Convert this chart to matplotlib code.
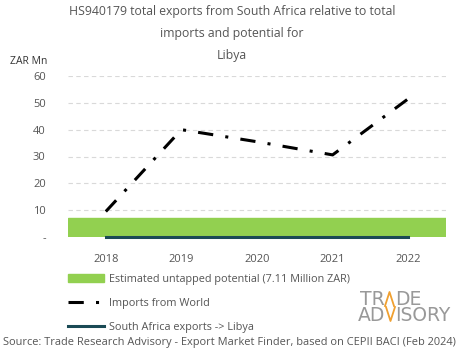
import matplotlib
matplotlib.use("Agg")
import matplotlib.pyplot as plt
from matplotlib.lines import Line2D
from matplotlib.patches import Patch

plt.rcParams['font.family'] = ['Open Sans', 'DejaVu Sans']

years = ['2018', '2019', '2020', '2021', '2022']
imports_world = [9.5, 40.0, 35.5, 30.6, 51.5]
sa_exports = [0.0, 0.0, 0.0, 0.0, 0.0]
potential = 7.11
yticks = [0, 10, 20, 30, 40, 50, 60]
ytick_labels = ['-', '10', '20', '30', '40', '50', '60']

W, H = 465, 359
fig = plt.figure(figsize=(W / 100, H / 100), dpi=100)
ax = fig.add_axes([68 / W, 1 - 237 / H, 378 / W, 161 / H])

x = list(range(len(years)))
ax.axhspan(0, potential, color='#92d050', zorder=1)
ax.plot(x, imports_world, color='black', lw=2.2, dashes=(5, 4, 1, 4), zorder=3)
ax.plot(x, sa_exports, color='#1a4a55', lw=2.2, zorder=3, clip_on=False)

ax.set_xlim(-0.5, 4.5)
ax.set_ylim(0, 60)
ax.set_xticks(x)
ax.set_xticklabels(years)
ax.set_yticks(yticks)
ax.set_yticklabels(ytick_labels)
ax.tick_params(length=0, labelsize=8, colors='#555555')
ax.tick_params(axis='x', pad=12)
ax.tick_params(axis='y', pad=16)
ax.grid(axis='y', color='#d9d9d9', ls=(0, (4, 3)), lw=0.8)
ax.set_axisbelow(True)
for s in ax.spines.values():
    s.set_visible(False)

title_kw = dict(ha='center', va='center', fontsize=8.8, color='#555555')
fig.text(232 / W, 1 - 12 / H, 'HS940179 total exports from South Africa relative to total', **title_kw)
fig.text(232 / W, 1 - 34 / H, 'imports and potential for', **title_kw)
fig.text(232 / W, 1 - 56 / H, 'Libya', **title_kw)
fig.text(10 / W, 1 - 61 / H, 'ZAR Mn', ha='left', va='center', fontsize=7.5, color='#333333')

handles = [Patch(color='#92d050'),
           Line2D([0], [0], color='black', lw=2.2, dashes=(5, 4, 1, 4)),
           Line2D([0], [0], color='#1a4a55', lw=2.2)]
labels = ['Estimated untapped potential (7.11 Million ZAR)',
          'Imports from World',
          'South Africa exports -> Libya']
fig.legend(handles, labels, loc='upper left', bbox_to_anchor=(68 / W, 1 - 274 / H),
           frameon=False, fontsize=7.8, labelcolor='#555555',
           handlelength=3.3, handletextpad=0.45, labelspacing=1.2,
           borderaxespad=0, borderpad=0)

# logo: gray letters split around the orange strokes
logo_kw = dict(va='baseline', fontsize=13.5, color='#999999', linespacing=0.78,
               fontfamily='DejaVu Sans')
fig.text(385 / W, 1 - 321 / H, 'TR\nAD', ha='right', multialignment='right', **logo_kw)
fig.text(395 / W, 1 - 321 / H, 'DE\nISORY', ha='left', multialignment='left', **logo_kw)
fig.add_artist(Line2D([385 / W, 389.5 / W, 394 / W], [1 - 306 / H, 1 - 292 / H, 1 - 306 / H],
                      color='#f0a030', lw=1.3, transform=fig.transFigure))
fig.add_artist(Line2D([386 / W, 390.5 / W, 395 / W], [1 - 307 / H, 1 - 321 / H, 1 - 307 / H],
                      color='#f0a030', lw=1.3, transform=fig.transFigure))

fig.text(229 / W, 1 - 343 / H,
         'Source: Trade Research Advisory - Export Market Finder, based on CEPII BACI (Feb 2024)',
         ha='center', va='center', fontsize=7.9, color='#555555')

fig.savefig('out.png', dpi=100)
